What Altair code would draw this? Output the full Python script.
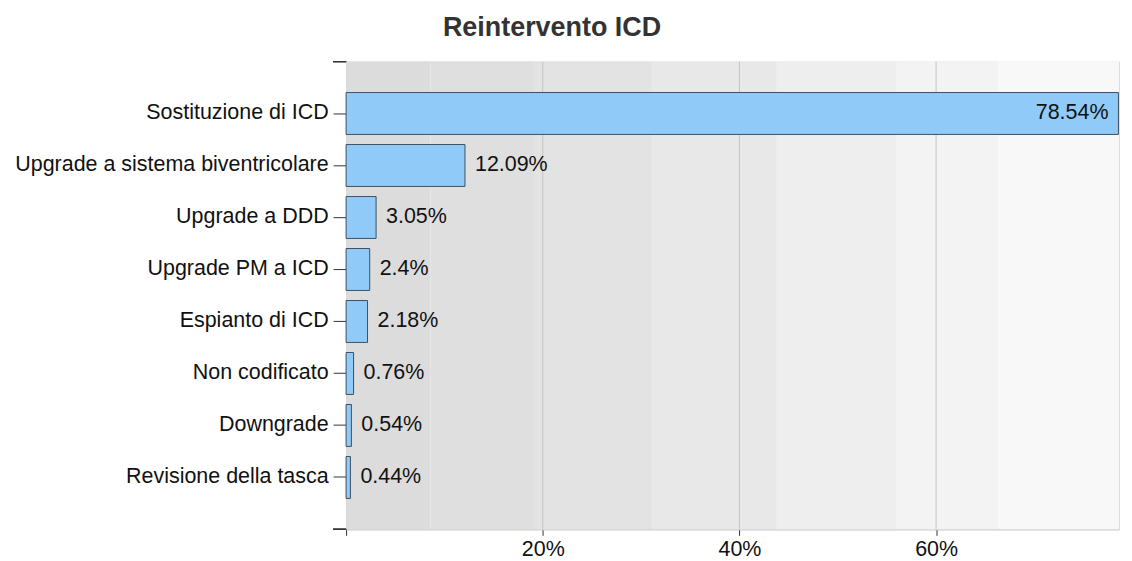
import altair as alt
import pandas as pd

categories = ["Sostituzione di ICD", "Upgrade a sistema biventricolare", "Upgrade a DDD",
              "Upgrade PM a ICD", "Espianto di ICD", "Non codificato", "Downgrade",
              "Revisione della tasca"]
values = [78.54, 12.09, 3.05, 2.4, 2.18, 0.76, 0.54, 0.44]

band_start = [0, 8.6, 19.1, 31.1, 43.8, 56.0, 66.3]
band_end = [8.6, 19.1, 31.1, 43.8, 56.0, 66.3, 78.6]
band_color = ["#dcdcdc", "#dfdfdf", "#e3e3e3", "#e8e8e8", "#eeeeee", "#f3f3f3", "#f8f8f8"]

x_ticks = [0, 20, 40, 60]
grid_ticks = [20, 40, 60]
x_max = 78.6

df = pd.DataFrame({"cat": categories, "val": values,
                   "label": [f"{v:g}%" for v in values]})
bands = pd.DataFrame({"s": band_start, "e": band_end, "c": band_color})
grid = pd.DataFrame({"g": grid_ticks})

FONT = "Liberation Sans"
FS = 21.5
W, H = 775, 469

xscale = alt.Scale(domain=[0, x_max], nice=False, zero=True)
yscale = alt.Scale(domain=categories, paddingInner=0.194, paddingOuter=0.595)

xaxis = alt.Axis(values=x_ticks, title=None,
                 labelExpr="datum.value == 0 ? '' : datum.value + '%'",
                 grid=False,
                 domainColor="#cccccc", tickColor="#333333", tickSize=6,
                 labelFontSize=FS, labelFont=FONT, labelColor="#111111",
                 labelPadding=3)

bg = alt.Chart(bands).mark_rect().encode(
    x=alt.X("s:Q", scale=xscale, axis=xaxis),
    x2="e:Q",
    color=alt.Color("c:N", scale=None),
)

gridlines = alt.Chart(grid).mark_rule(color="#c4c4c4", strokeWidth=1).encode(
    x=alt.X("g:Q", scale=xscale))

yenc = alt.Y("cat:N", scale=yscale, sort=categories,
             axis=alt.Axis(title=None, labelFontSize=FS, labelFont=FONT, labelColor="#111111",
                           tickColor="#333333", tickSize=13, labelPadding=5, labelLimit=500,
                           domainColor="#bbbbbb", grid=False))

bars = alt.Chart(df).mark_bar(color="#90caf9", stroke="#3f4f5e", strokeWidth=1).encode(
    x=alt.X("val:Q", scale=xscale),
    y=yenc,
)

inside = alt.Chart(df).transform_filter("datum.val > 50").mark_text(
    align="right", baseline="middle", dx=-10, fontSize=FS, font=FONT, color="#111111"
).encode(x=alt.X("val:Q", scale=xscale), y=alt.Y("cat:N", scale=yscale, sort=categories),
         text="label:N")

outside = alt.Chart(df).transform_filter("datum.val <= 50").mark_text(
    align="left", baseline="middle", dx=10, fontSize=FS, font=FONT, color="#111111"
).encode(x=alt.X("val:Q", scale=xscale), y=alt.Y("cat:N", scale=yscale, sort=categories),
         text="label:N")

top_tick = alt.Chart(df).mark_rule(color="#333333").encode(
    x=alt.value(-13), x2=alt.value(0), y=alt.value(0))
bottom_tick = alt.Chart(df).mark_rule(color="#333333").encode(
    x=alt.value(-13), x2=alt.value(0), y=alt.value(H))

chart = alt.layer(bg, gridlines, bars, inside, outside, top_tick, bottom_tick).properties(
    width=W, height=H,
    title=alt.Title("Reintervento ICD", fontSize=27, font=FONT, fontWeight="bold",
                    color="#333333", offset=19, dx=-181),
).configure_view(stroke=None).configure(padding={"left": 6, "top": 5, "right": 5, "bottom": 5})

chart.save("out.html", embed_options={"renderer": "svg", "actions": False})
